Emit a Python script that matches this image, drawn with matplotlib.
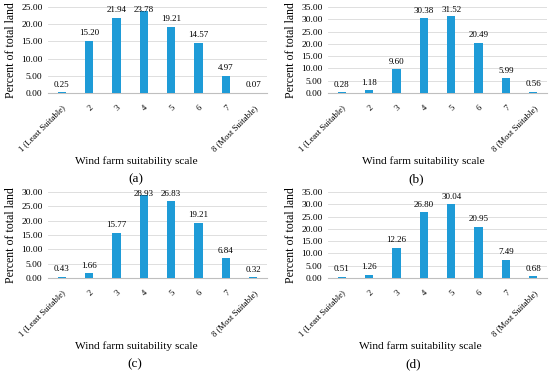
import matplotlib.pyplot as plt
import numpy as np

plt.rcParams['font.family'] = ['Liberation Serif', 'DejaVu Serif']

categories = ['1 (Least Suitable)', '2', '3', '4', '5', '6', '7', '8 (Most Suitable)']
vals_a = [0.25, 15.20, 21.94, 23.78, 19.21, 14.57, 4.97, 0.07]
vals_b = [0.28, 1.18, 9.60, 30.38, 31.52, 20.49, 5.99, 0.56]
vals_c = [0.43, 1.66, 15.77, 28.93, 26.83, 19.21, 6.84, 0.32]
vals_d = [0.51, 1.26, 12.26, 26.80, 30.04, 20.95, 7.49, 0.68]
ymax = [25, 35, 30, 35]
panel_tags = ['(a)', '(b)', '(c)', '(d)']

W, H = 550, 372
fig = plt.figure(figsize=(W / 100, H / 100), dpi=100)

# axes boxes in pixels: left, top, right, bottom
boxes = [(48, 7, 267, 93), (328, 7, 547, 93), (48, 192, 267, 278), (328, 192, 547, 278)]
# x centres (pixels) of the axis title and of the panel tag
title_x = [(136, 136), (423, 416), (136, 135), (420, 413)]
bar_color = '#1E9BD7'

for vals, top, tag, (l, t, r, b), (tx, gx) in zip([vals_a, vals_b, vals_c, vals_d], ymax, panel_tags, boxes, title_x):
    ax = fig.add_axes([l / W, 1 - b / H, (r - l) / W, (b - t) / H])
    x = np.arange(len(categories))
    ax.bar(x, vals, width=0.3, color=bar_color, zorder=3)
    px = top / (b - t)  # data units per pixel
    for xi, v in zip(x, vals):
        # labels sit above the bar, but stay inside the plot area (like Excel)
        ly = min(v + 7.5 * px, top - 2.5 * px)
        ax.text(xi, ly, f'{v:.2f}', ha='center', va='center', fontsize=6.5, zorder=4)
    ax.set_xlim(-0.5, 7.5)
    ax.set_ylim(0, top)
    ticks = np.arange(0, top + 0.1, 5)
    ax.set_yticks(ticks)
    ax.set_yticklabels([f'{v:.2f}' for v in ticks], fontsize=6.8)
    ax.set_xticks(x)
    ax.set_xticklabels(categories, rotation=45, ha='right', rotation_mode='anchor', fontsize=6.2)
    ax.tick_params(axis='y', length=0, pad=4)
    ax.tick_params(axis='x', length=0, pad=8)
    ax.grid(axis='y', color='#d9d9d9', linewidth=0.6, zorder=0)
    for s in ['top', 'right', 'left']:
        ax.spines[s].set_visible(False)
    ax.spines['bottom'].set_color('#bfbfbf')
    ax.spines['bottom'].set_linewidth(0.8)
    ax.set_ylabel('Percent of total land', fontsize=8.5, labelpad=3)
    fig.text(tx / W, 1 - (b + 68) / H, 'Wind farm suitability scale', ha='center', va='center', fontsize=8.2)
    fig.text(gx / W, 1 - (b + 86) / H, tag, ha='center', va='center', fontsize=9.5)

plt.savefig('out.png', dpi=100)
